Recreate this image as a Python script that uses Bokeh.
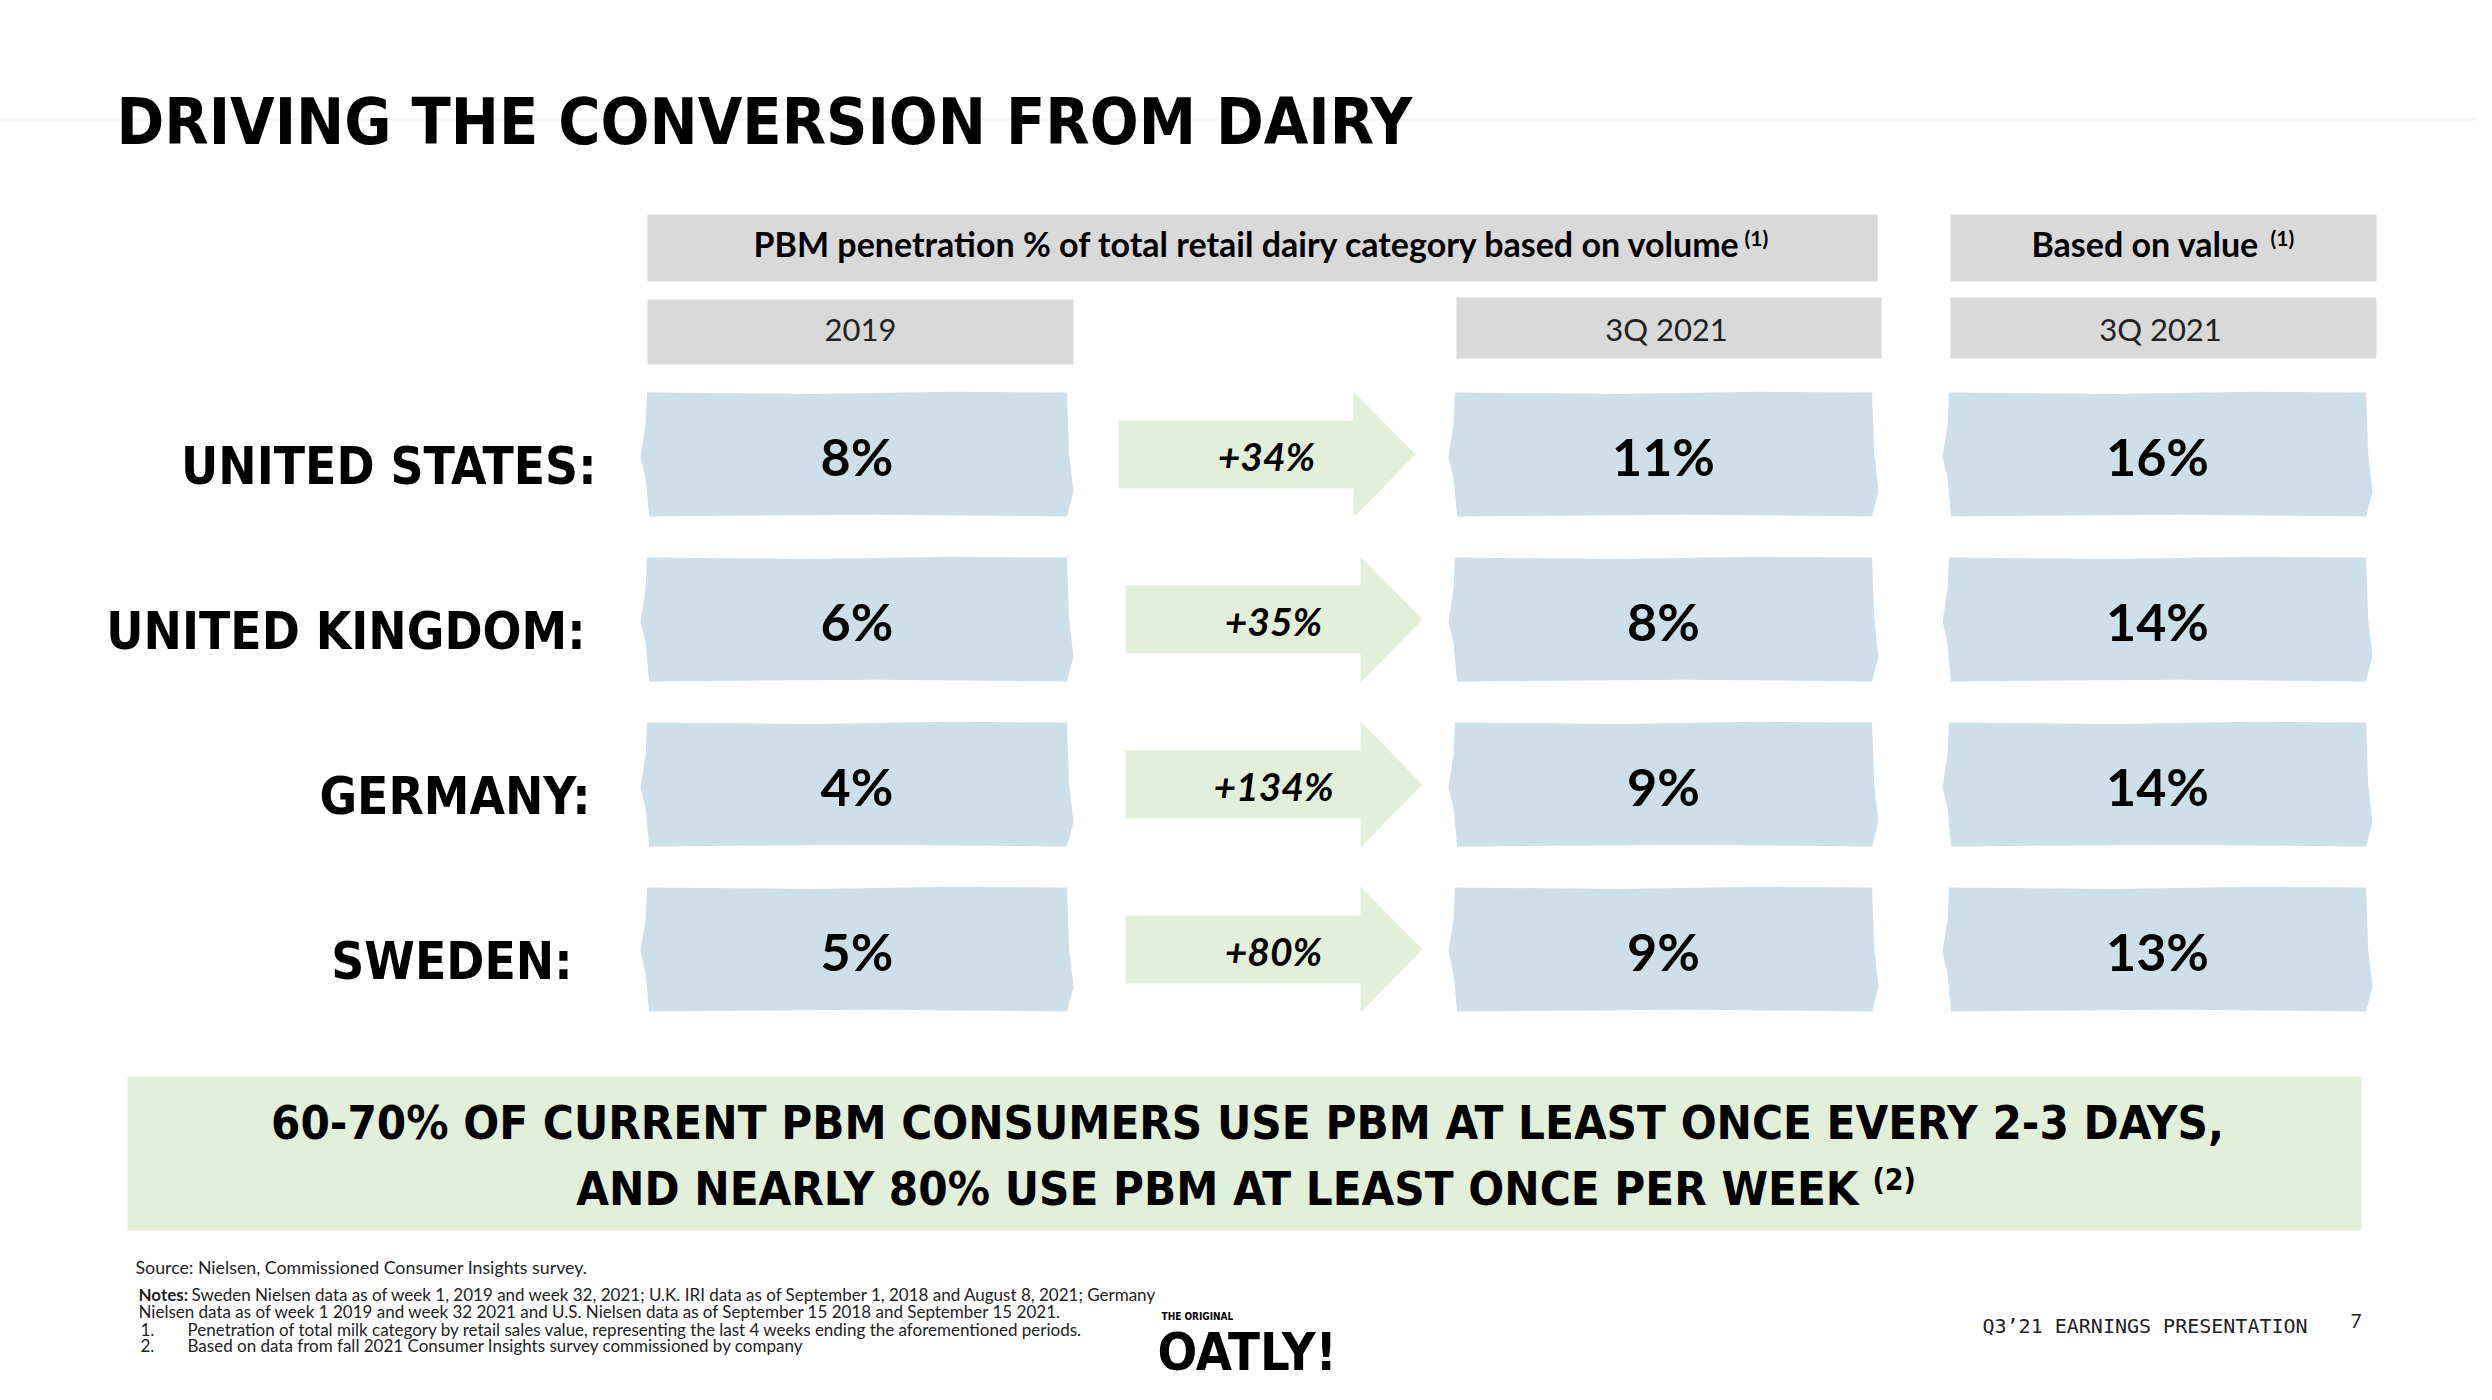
from bokeh.plotting import figure
from bokeh.models import Range1d
from bokeh.core.properties import value
from bokeh.embed import file_html
from bokeh.resources import INLINE

# ---------------- data ----------------
countries = ["UNITED STATES:", "UNITED KINGDOM:", "GERMANY:", "SWEDEN:"]
vol_2019 = [8, 6, 4, 5]
vol_3q2021 = [11, 8, 9, 9]
val_3q2021 = [16, 14, 14, 13]
growth = [34, 35, 134, 80]

title = "DRIVING THE CONVERSION FROM DAIRY"
header_volume = "PBM penetration % of total retail dairy category based on volume"
header_value = "Based on value"
sub_headers = ["2019", "3Q 2021", "3Q 2021"]
banner_lines = ["60-70% OF CURRENT PBM CONSUMERS USE PBM AT LEAST ONCE EVERY 2-3 DAYS,",
                "AND NEARLY 80% USE PBM AT LEAST ONCE PER WEEK"]
source_line = "Source: Nielsen, Commissioned Consumer Insights survey."
notes_lines = [
    "Sweden Nielsen data as of week 1, 2019 and week 32, 2021; U.K. IRI data as of  September 1, 2018 and August 8, 2021; Germany",
    "Nielsen data as of week 1 2019 and week 32 2021 and U.S. Nielsen data as of September 15 2018 and September 15 2021.",
]
numbered_notes = [
    "Penetration of total milk category by retail sales value, representing the last 4 weeks ending the aforementioned periods.",
    "Based on data from fall 2021 Consumer Insights survey commissioned by company",
]
footer_text = "Q3\u201921 EARNINGS PRESENTATION"
page_number = "7"

# ---------------- style / layout ----------------
HEAVY = "DejaVu Sans Condensed, DejaVu Sans"
BODY = "Lato"
MONO = "DejaVu Sans Mono"
GRAY = "#d9d9d9"
BLUE = "#cde0e9"
GREEN = "#e2efd9"
K = 0.38  # baseline correction (fraction of font size)

W, H = 2476, 1384
p = figure(width=W, height=H, x_range=Range1d(0, W), y_range=Range1d(H, 0),
           output_backend="svg", toolbar_location=None, min_border=0)
p.axis.visible = False
p.grid.visible = False
p.outline_line_color = None
p.background_fill_color = "white"
p.border_fill_color = "white"


def txt(xs, ys, texts, size, font=BODY, style="normal", align="left", color="black"):
    p.text(x=list(xs), y=[y - K * size for y in ys], text=list(texts), text_font=value(font),
           text_font_style=style, text_font_size=f"{size}px", text_baseline="alphabetic",
           text_align=align, text_color=color)


row_y0 = 454
row_dy = 165
box_h = 124
cols = [(640, 1073), (1448, 1878), (1942, 2372)]
ys_row = [row_y0 + row_dy * i for i in range(len(countries))]
label_right = [596, 585, 590, 572]
arrow_shift = [0, 7, 7, 7]

# faint rule under title
p.line(x=[0, W], y=[119, 119], line_color="#eef6f3", line_width=2)

# title
txt([116], [146], [title], 64, font=HEAVY, style="bold")

# header boxes
hx0 = [647, 1950, 647, 1456, 1950]
hx1 = [1877, 2376, 1073, 1881, 2376]
hy0 = [214, 214, 299, 297, 297]
hy1 = [281, 281, 364, 358, 358]
p.quad(left=hx0, right=hx1, top=hy0, bottom=hy1, fill_color=GRAY, line_color=None)

txt([753, 2031], [256, 256], [header_volume, header_value], 34, style="bold")
txt([1744, 2270], [245, 245], ["(1)", "(1)"], 21, style="bold")
txt([860, 1666, 2160], [341, 340, 340], sub_headers, 31, align="center", color="#222222")

# ragged "torn paper" box outline (fractions of box width/height)
shape = [(0.015, 0.0), (0.4, 0.012), (0.72, -0.006), (0.985, 0.0), (0.99, 0.5), (1.0, 0.8),
         (0.985, 1.0), (0.55, 0.985), (0.02, 1.0), (0.012, 0.7), (0.0, 0.52), (0.012, 0.25)]

bx, by = [], []
for cy in ys_row:
    for (x0, x1) in cols:
        bx.append([x0 + fx * (x1 - x0) for fx, fy in shape])
        by.append([cy - box_h / 2 + fy * box_h for fx, fy in shape])
p.patches(xs=bx, ys=by, fill_color=BLUE, line_color=None)

# arrows
ax, ay = [], []
for cy, s in zip(ys_row, arrow_shift):
    a0, a1, a2 = 1118 + s, 1353 + s, 1415 + s
    sh, hh = 34, 63
    ax.append([a0, a1, a1, a2, a1, a1, a0])
    ay.append([cy - sh, cy - sh, cy - hh, cy, cy + hh, cy + sh, cy + sh])
p.patches(xs=ax, ys=ay, fill_color=GREEN, line_color=None)

# country labels
txt(label_right, [y + 31 for y in ys_row], countries, 51, font=HEAVY, style="bold", align="right")

# values
for (x0, x1), vals in zip(cols, [vol_2019, vol_3q2021, val_3q2021]):
    txt([(x0 + x1) / 2] * 4, [y + 21 for y in ys_row], [f"{v}%" for v in vals], 52,
        style="bold", align="center")

txt([1266 + s for s in arrow_shift], [y + 16 for y in ys_row], [f"+{g}%" for g in growth], 39,
    style="bold italic", align="center")

# banner
p.quad(left=[127], right=[2361], top=[1076], bottom=[1230], fill_color=GREEN, line_color=None)
txt([1247, 1217], [1140, 1206], banner_lines, 47, font=HEAVY, style="bold", align="center")
txt([1872], [1190], ["(2)"], 30, font=HEAVY, style="bold")

# footnotes
txt([135], [1273], [source_line], 17.8, color="#222222")
txt([138], [1300], ["Notes:"], 17, style="bold", color="#222222")
txt([191, 138], [1300, 1317], notes_lines, 17, color="#222222")
txt([140, 140], [1335, 1351], ["1.", "2."], 17, color="#222222")
txt([187, 187], [1335, 1351], numbered_notes, 17, color="#222222")

# logo
txt([1161], [1320], ["THE ORIGINAL"], 10, font=HEAVY, style="bold")
txt([1157], [1371], ["OATLY!"], 52, font=HEAVY, style="bold")

# footer
txt([1982], [1333], [footer_text], 20, font=MONO, color="#222222")
txt([2350], [1328], [page_number], 19, color="#222222")

open("out.html", "w").write(file_html(p, INLINE))
